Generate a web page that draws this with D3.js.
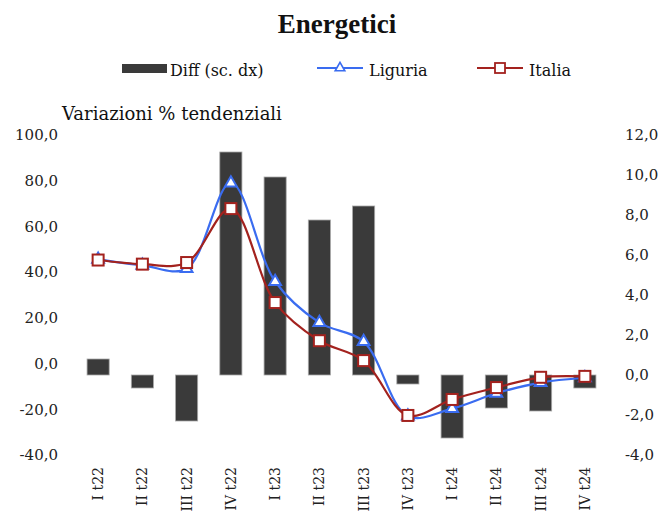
<!DOCTYPE html>
<html><head><meta charset="utf-8">
<script src="https://cdn.jsdelivr.net/npm/d3@7/dist/d3.min.js"></script>
<style>
html,body{margin:0;padding:0;background:#fff;}
svg{display:block;font-family:"DejaVu Serif","Liberation Serif",serif;}
</style></head>
<body><svg id="c" width="662" height="514"></svg>
<script>
const categories = ["I t22","II t22","III t22","IV t22","I t23","II t23","III t23","IV t23","I t24","II t24","III t24","IV t24"];
const diff    = [0.8, -0.65, -2.3, 11.15, 9.9, 7.75, 8.45, -0.45, -3.15, -1.65, -1.8, -0.65];
const liguria = [45.6, 43.0, 41.5, 79.0, 35.9, 17.9, 9.6, -23.0, -19.7, -13.0, -8.3, -6.2];
const italia  = [45.3, 43.5, 44.2, 67.8, 26.7, 10.0, 1.3, -22.7, -15.7, -10.5, -6.0, -5.6];
const leftTicks  = [-40,-20,0,20,40,60,80,100];
const rightTicks = [-4,-2,0,2,4,6,8,10,12];

const svg = d3.select("#c");
const fmt = v => d3.format(".1f")(v).replace(".", ",").replace("−","-");

const x = d3.scaleBand().domain(categories).range([76, 607]).paddingInner(0.5).paddingOuter(0.25);
const yL = d3.scaleLinear().domain([-40, 100]).range([455, 135]);
const yR = d3.scaleLinear().domain([-4, 12]).range([455, 135]);
const cx = d => x(d) + x.bandwidth() / 2;

const BLUE = "#3a6cf0", RED = "#a3221e", BAR = "#3a3a3a";

// Title
svg.append("text").attr("x", 337).attr("y", 33).attr("text-anchor", "middle")
  .attr("font-family", "'Liberation Serif', serif")
  .attr("font-size", 27).attr("font-weight", "bold").attr("fill", "#111").text("Energetici");

// Legend
const lg = svg.append("g").attr("font-size", 16).attr("fill", "#111");
lg.append("rect").attr("x", 122).attr("y", 64).attr("width", 45).attr("height", 9).attr("fill", BAR);
lg.append("text").attr("x", 170).attr("y", 76).text("Diff (sc. dx)");
lg.append("line").attr("x1", 317).attr("x2", 363).attr("y1", 68).attr("y2", 68).attr("stroke", BLUE).attr("stroke-width", 2);
lg.append("path").attr("d", d3.symbol(d3.symbolTriangle, 40)()).attr("transform", "translate(340,68)")
  .attr("fill", "#fff").attr("stroke", BLUE).attr("stroke-width", 1.6);
lg.append("text").attr("x", 369).attr("y", 76).text("Liguria");
lg.append("line").attr("x1", 477).attr("x2", 523).attr("y1", 68).attr("y2", 68).attr("stroke", RED).attr("stroke-width", 2);
lg.append("rect").attr("x", 495).attr("y", 63).attr("width", 10).attr("height", 10)
  .attr("fill", "#fff").attr("stroke", RED).attr("stroke-width", 1.8);
lg.append("text").attr("x", 529).attr("y", 76).text("Italia");

// Axis title
svg.append("text").attr("x", 62).attr("y", 120).attr("font-size", 18).attr("fill", "#111").text("Variazioni % tendenziali");

// Left axis
const axL = svg.append("g").attr("transform", "translate(66,0)")
  .call(d3.axisLeft(yL).tickValues(leftTicks).tickFormat(fmt).tickSize(0).tickPadding(8));
axL.attr("font-family", null).attr("font-size", null);
axL.select(".domain").remove();
axL.selectAll("text").attr("font-size", 15).attr("fill", "#222");

// Right axis
const axR = svg.append("g").attr("transform", "translate(617,0)")
  .call(d3.axisRight(yR).tickValues(rightTicks).tickFormat(fmt).tickSize(0).tickPadding(8));
axR.attr("font-family", null).attr("font-size", null);
axR.select(".domain").remove();
axR.selectAll("text").attr("font-size", 15).attr("fill", "#222");

// Bars
svg.append("g").selectAll("rect").data(categories).join("rect")
  .attr("x", d => x(d))
  .attr("width", x.bandwidth())
  .attr("y", (d, i) => yR(Math.max(0, diff[i])))
  .attr("height", (d, i) => Math.abs(yR(diff[i]) - yR(0)))
  .attr("fill", BAR).attr("stroke", "#a8a8a8").attr("stroke-width", 0.8);

// Lines
const line = d3.line().x(d => cx(d[0])).y(d => yL(d[1])).curve(d3.curveCatmullRom.alpha(0.5));
const ligPts = categories.map((c, i) => [c, liguria[i]]);
const itaPts = categories.map((c, i) => [c, italia[i]]);

svg.append("path").attr("d", line(ligPts)).attr("fill", "none").attr("stroke", BLUE).attr("stroke-width", 2.2);
svg.append("g").selectAll("path").data(ligPts).join("path")
  .attr("d", d3.symbol(d3.symbolTriangle, 60)())
  .attr("transform", d => `translate(${cx(d[0])},${yL(d[1])})`)
  .attr("fill", "#fff").attr("stroke", BLUE).attr("stroke-width", 2);

svg.append("path").attr("d", line(itaPts)).attr("fill", "none").attr("stroke", RED).attr("stroke-width", 2.2);
svg.append("g").selectAll("rect").data(itaPts).join("rect")
  .attr("x", d => cx(d[0]) - 5.5).attr("y", d => yL(d[1]) - 5.5)
  .attr("width", 11).attr("height", 11)
  .attr("fill", "#fff").attr("stroke", RED).attr("stroke-width", 2);

// X labels
svg.append("g").selectAll("text").data(categories).join("text")
  .attr("transform", d => `translate(${cx(d)},467) rotate(-90)`)
  .attr("text-anchor", "end").attr("dy", "0.35em").attr("font-size", 14).attr("fill", "#222")
  .text(d => d);
</script></body></html>
